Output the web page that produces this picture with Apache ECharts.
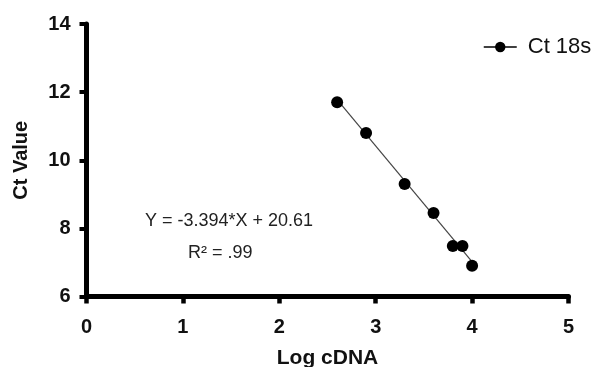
<!DOCTYPE html>
<html>
<head>
<meta charset="utf-8">
<script src="https://cdn.jsdelivr.net/npm/echarts@6/dist/echarts.min.js"></script>
<style>html,body{margin:0;padding:0;background:#fff}#c{width:600px;height:367px}</style>
</head>
<body>
<div id="c"></div>
<script>
// Data
const logCDNA = [2.6, 2.9, 3.3, 3.6, 3.8, 3.9, 4.0];
const ctValues = [11.7, 10.8, 9.3, 8.45, 7.48, 7.48, 6.9];
const fitLineX = [2.6, 4.02];
const fitLineY = [11.78, 6.95];
const xTicks = [0, 1, 2, 3, 4, 5];
const yTicks = [6, 8, 10, 12, 14];
const seriesName = 'Ct 18s';
const equationText = 'Y = -3.394*X + 20.61';
const r2Text = 'R² = .99';

const chart = echarts.init(document.getElementById('c'), null, {renderer: 'canvas'});
const axisFont = {fontFamily: 'Liberation Sans, Arial', fontWeight: 'bold', color: '#111'};
chart.setOption({
  animation: false,
  grid: {left: 86.5, right: 31.5, top: 24, bottom: 70.5, containLabel: false, outerBoundsMode: 'none'},
  legend: {
    data: [{name: seriesName, lineStyle: {width: 1.5, color: '#000', opacity: 1}}],
    left: 478, top: 31,
    itemWidth: 33, itemHeight: 13,
    textStyle: {fontFamily: 'Liberation Sans, Arial', fontSize: 22, color: '#111', padding: [0, 0, 0, 6]}
  },
  xAxis: {
    type: 'value', min: xTicks[0], max: xTicks[xTicks.length - 1], interval: 1,
    name: 'Log cDNA', nameLocation: 'middle', nameGap: 51,
    nameTextStyle: Object.assign({fontSize: 21}, axisFont),
    axisLine: {show: true, lineStyle: {color: '#000', width: 5}},
    axisTick: {show: true, length: 7, lineStyle: {color: '#000', width: 4.5}},
    axisLabel: Object.assign({fontSize: 20, margin: 21}, axisFont),
    splitLine: {show: false}
  },
  yAxis: {
    type: 'value', min: yTicks[0], max: yTicks[yTicks.length - 1], interval: 2,
    name: 'Ct Value', nameLocation: 'middle', nameGap: 55,
    nameTextStyle: Object.assign({fontSize: 20}, axisFont),
    axisLine: {show: true, lineStyle: {color: '#000', width: 5}},
    axisTick: {show: true, length: 7, lineStyle: {color: '#000', width: 4}},
    axisLabel: Object.assign({fontSize: 20, margin: 16}, axisFont),
    splitLine: {show: false}
  },
  series: [
    {
      name: 'fit', type: 'line',
      data: fitLineX.map((x, i) => [x, fitLineY[i]]),
      showSymbol: false, silent: true,
      lineStyle: {color: '#444', width: 1.2}, z: 1
    },
    {
      name: seriesName, type: 'line',
      data: logCDNA.map((x, i) => [x, ctValues[i]]),
      symbol: 'circle', symbolSize: 12,
      itemStyle: {color: '#000'},
      lineStyle: {width: 0, opacity: 0}, z: 2
    }
  ],
  graphic: [
    {type: 'text', left: 145, top: 212, style: {text: equationText, font: '18px "Liberation Sans", Arial', fill: '#222'}},
    {type: 'text', left: 188, top: 244, style: {text: r2Text, font: '18px "Liberation Sans", Arial', fill: '#222'}}
  ]
});
</script>
</body>
</html>
